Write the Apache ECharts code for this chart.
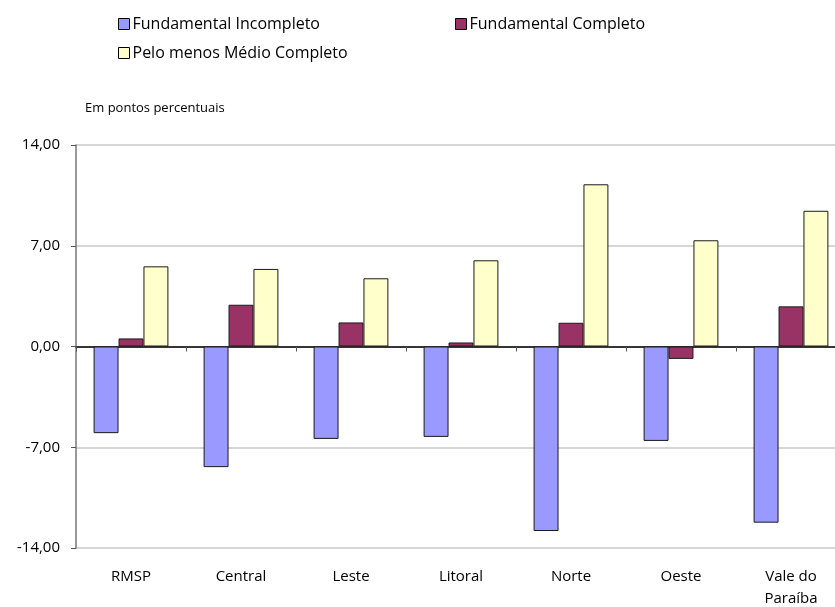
<!DOCTYPE html>
<html>
<head>
<meta charset="utf-8">
<script src="https://cdn.jsdelivr.net/npm/echarts@6/dist/echarts.min.js"></script>
<style>
  html, body { margin: 0; padding: 0; background: #ffffff; }
  #chart { width: 835px; height: 607px; }
</style>
</head>
<body>
<div id="chart"></div>
<script>
// Regiões e variação (pontos percentuais) por nível de escolaridade
const regioes = ['RMSP', 'Central', 'Leste', 'Litoral', 'Norte', 'Oeste', 'Vale do\nParaíba'];
const fundamentalIncompleto = [-6.02, -8.38, -6.42, -6.28, -12.82, -6.56, -12.24];
const fundamentalCompleto = [0.56, 2.90, 1.67, 0.28, 1.65, -0.86, 2.79];
const peloMenosMedio = [5.57, 5.39, 4.74, 5.99, 11.27, 7.38, 9.43];
const nomesSeries = ['Fundamental Incompleto', 'Fundamental Completo', 'Pelo menos Médio Completo'];
const coresSeries = ['#9999ff', '#993366', '#ffffcc'];
const ticksY = { min: -14, max: 14, interval: 7 };

const fonte = '"Open Sans", "Liberation Sans", sans-serif';
const chart = echarts.init(document.getElementById('chart'), null, { renderer: 'canvas' });

function legenda(i, left, top) {
  return {
    data: [nomesSeries[i]],
    left: left,
    top: top,
    itemWidth: 11,
    itemHeight: 11,
    icon: 'rect',
    selectedMode: false,
    textStyle: { fontFamily: fonte, fontSize: 16, color: '#000', padding: [0, 0, 0, -2] },
    itemStyle: { borderColor: '#000', borderWidth: 1 }
  };
}

function serie(i, valores) {
  return {
    name: nomesSeries[i],
    type: 'bar',
    xAxisIndex: 0,
    data: valores,
    barGap: '0%',
    barCategoryGap: '32%',
    itemStyle: { color: coresSeries[i], borderColor: '#1a1a1a', borderWidth: 1 },
    emphasis: { disabled: true }
  };
}

chart.setOption({
  animation: false,
  backgroundColor: '#ffffff',
  legend: [
    legenda(0, 113, 11),
    legenda(1, 450, 11),
    legenda(2, 113, 40)
  ],
  title: {
    text: 'Em pontos percentuais',
    left: 80,
    top: 97,
    textStyle: { fontFamily: fonte, fontSize: 13, fontWeight: 'normal', color: '#000' }
  },
  grid: { left: 76, right: -11, top: 145, bottom: 59, containLabel: false, outerBoundsMode: 'none' },
  xAxis: [
    {
      type: 'category',
      data: regioes,
      position: 'bottom',
      axisLine: { show: false, onZero: false },
      axisTick: { show: false },
      axisLabel: {
        interval: 0,
        margin: 18,
        fontFamily: fonte,
        fontSize: 15,
        lineHeight: 22,
        color: '#000'
      },
      splitLine: { show: false }
    },
    {
      type: 'category',
      data: regioes,
      position: 'bottom',
      axisLine: { show: true, onZero: true, lineStyle: { color: '#000', width: 1.5 } },
      axisTick: { show: true, length: 5, lineStyle: { color: '#555' } },
      axisLabel: { show: false },
      splitLine: { show: false }
    }
  ],
  yAxis: {
    type: 'value',
    min: ticksY.min,
    max: ticksY.max,
    interval: ticksY.interval,
    axisLine: { show: true, lineStyle: { color: '#777', width: 1.5 } },
    axisTick: { show: true, length: 5, lineStyle: { color: '#555' } },
    axisLabel: {
      margin: 16,
      fontFamily: fonte,
      fontSize: 15,
      color: '#000',
      formatter: v => v.toFixed(2).replace('.', ',')
    },
    splitLine: { show: true, lineStyle: { color: '#c8c8c8', width: 1.5 } }
  },
  series: [
    serie(0, fundamentalIncompleto),
    serie(1, fundamentalCompleto),
    serie(2, peloMenosMedio)
  ]
});
</script>
</body>
</html>
